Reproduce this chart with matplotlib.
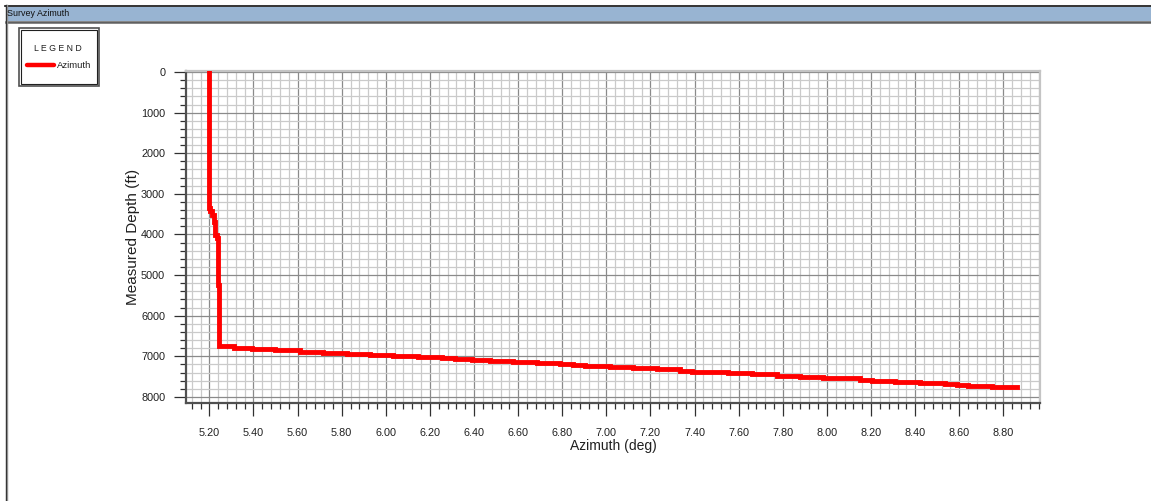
import matplotlib
matplotlib.use("Agg")
import matplotlib.pyplot as plt
from matplotlib.patches import Rectangle
from matplotlib.lines import Line2D
from matplotlib.ticker import MultipleLocator, FormatStrFormatter

plt.rcParams['font.family'] = ['Liberation Sans', 'DejaVu Sans']

# survey stations: azimuth (deg) and measured depth (ft)
azimuth = [5.200, 5.205, 5.214, 5.220, 5.226, 5.233, 5.238, 5.245,
           5.313, 5.392, 5.498, 5.611, 5.717, 5.823, 5.929, 6.034,
           6.148, 6.253, 6.314, 6.389, 6.472, 6.578, 6.684, 6.790,
           6.850, 6.903, 7.016, 7.122, 7.228, 7.334, 7.387, 7.553,
           7.659, 7.772, 7.878, 7.983, 8.150, 8.203, 8.308, 8.422,
           8.535, 8.588, 8.641, 8.747, 8.860]
depth = [0, 3350, 3420, 3520, 3690, 4020, 4090, 5250,
         6750, 6790, 6820, 6850, 6885, 6915, 6940, 6962,
         6987, 7012, 7036, 7069, 7094, 7118, 7143, 7167,
         7192, 7217, 7235, 7258, 7282, 7323, 7365, 7389,
         7422, 7447, 7480, 7504, 7545, 7586, 7602, 7627,
         7652, 7685, 7718, 7734, 7750]

W, H = 1151, 501


def fx(x):
    return x / W


def fy(y):
    return 1 - y / H


fig = plt.figure(figsize=(W / 100, H / 100), dpi=100)

# window frame and caption bar
fig.patches.append(Rectangle((fx(6), fy(21)), fx(W), 14 / H, transform=fig.transFigure,
                             facecolor='#98b4d2', edgecolor='none'))
fig.lines.append(Line2D([fx(5), fx(W)], [fy(5.5), fy(5.5)], transform=fig.transFigure,
                        color='#101010', lw=1.2))
fig.lines.append(Line2D([fx(6), fx(W)], [fy(21.5), fy(21.5)], transform=fig.transFigure,
                        color='#606060', lw=1.8))
fig.lines.append(Line2D([fx(5.5), fx(5.5)], [fy(5), fy(H)], transform=fig.transFigure,
                        color='#202020', lw=1.0))
fig.lines.append(Line2D([fx(7.5), fx(7.5)], [fy(5), fy(H)], transform=fig.transFigure,
                        color='#909090', lw=1.0))
fig.text(fx(7), fy(13.5), 'Survey Azimuth', fontsize=6.4, va='center', ha='left',
         color='#101010')

ax = fig.add_axes([fx(186), fy(403), (1040 - 186) / W, (403 - 71) / H])
line, = ax.plot(azimuth, depth, color='#ff0000', lw=3.5, drawstyle='steps-pre',
                solid_joinstyle='miter', zorder=3, label='Azimuth')

ax.set_xlim(5.094, 8.966)
ax.set_ylim(8150, -25)

ax.xaxis.set_major_locator(MultipleLocator(0.2))
ax.xaxis.set_minor_locator(MultipleLocator(0.04))
ax.xaxis.set_major_formatter(FormatStrFormatter('%.2f'))
ax.yaxis.set_major_locator(MultipleLocator(1000))
ax.yaxis.set_minor_locator(MultipleLocator(200))

ax.grid(which='major', color='#8a8a8a', lw=0.9)
ax.grid(which='minor', color='#cacaca', lw=0.9)
ax.set_axisbelow(True)

for side in ['left', 'bottom']:
    ax.spines[side].set_color('#505050')
    ax.spines[side].set_linewidth(1.6)
for side in ['top', 'right']:
    ax.spines[side].set_color('#c4c4c4')
    ax.spines[side].set_linewidth(1.6)

ax.tick_params(which='major', direction='out', length=9, width=0.9, color='#303030',
               labelsize=7.8, labelcolor='#202020')
ax.tick_params(which='minor', direction='out', length=4.5, width=0.9, color='#303030')
ax.tick_params(axis='x', which='major', pad=9)
ax.tick_params(axis='y', which='major', pad=6)

ax.set_xlabel('Azimuth (deg)', fontsize=10, color='#202020', labelpad=1)
ax.set_ylabel('Measured Depth (ft)', fontsize=11, color='#202020', labelpad=1)

# legend box with double border
fig.patches.append(Rectangle((fx(18.5), fy(85.5)), 80 / W, 58 / H, transform=fig.transFigure,
                             facecolor='white', edgecolor='#505050', lw=1.2))
fig.patches.append(Rectangle((fx(20.5), fy(83.5)), 76 / W, 54 / H, transform=fig.transFigure,
                             facecolor='none', edgecolor='#202020', lw=0.8))
fig.text(fx(58), fy(48.5), 'L E G E N D', fontsize=6.3, ha='center', va='center',
         color='#202020')
fig.lines.append(Line2D([fx(27), fx(54)], [fy(64.5), fy(64.5)], transform=fig.transFigure,
                        color=line.get_color(), lw=3.2, solid_capstyle='round'))
fig.text(fx(56.5), fy(66), line.get_label(), fontsize=6.8, ha='left', va='center',
         color='#202020')

fig.savefig('out.png', dpi=100)
